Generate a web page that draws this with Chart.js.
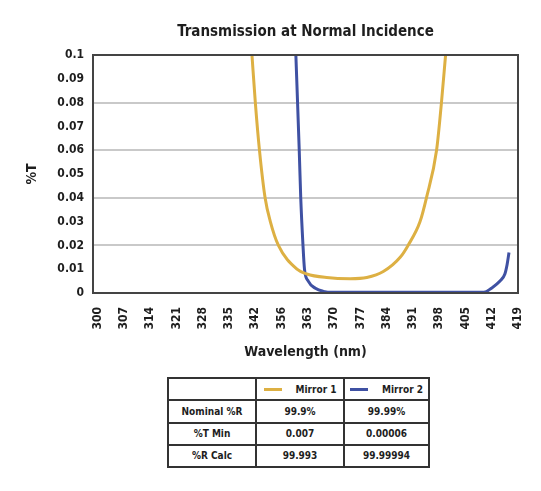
<!DOCTYPE html>
<html>
<head>
<meta charset="utf-8">
<script src="https://cdn.jsdelivr.net/npm/chart.js@4.4.1/dist/chart.umd.min.js"></script>
<style>
  body { margin: 0; background: #fff; }
  #wrap { position: relative; width: 541px; height: 491px; }
  #chart { position: absolute; left: 0; top: 0; }
  table.specs {
    position: absolute; left: 167px; top: 377px; width: 263px; height: 91px;
    border-collapse: collapse;
    font-family: 'DejaVu Sans Condensed', 'Liberation Sans', sans-serif;
    font-weight: bold; font-size: 10px; color: #1e1e1e;
  }
  table.specs td { border: 2px solid #333; text-align: center; padding: 0; }
  .key { display: inline-block; width: 18px; height: 3px; vertical-align: middle; margin-right: 14px; }
</style>
</head>
<body>
<div id="wrap">
  <canvas id="chart" width="541" height="370"></canvas>
  <table class="specs">
    <tr><td style="width:86px"></td><td style="width:86px"><span class="key" style="background:#DDB043"></span>Mirror 1</td><td><span class="key" style="background:#3F51A3"></span>Mirror 2</td></tr>
    <tr><td>Nominal %R</td><td>99.9%</td><td>99.99%</td></tr>
    <tr><td>%T Min</td><td>0.007</td><td>0.00006</td></tr>
    <tr><td>%R Calc</td><td>99.993</td><td>99.99994</td></tr>
  </table>
</div>
<script>
// tick labels as printed on the x axis (349 is not shown in the original)
const wavelengthTicks = [300, 307, 314, 321, 328, 335, 342, 356, 363, 370, 377, 384, 391, 398, 405, 412, 419];
const percentTicks = [0, 0.01, 0.02, 0.03, 0.04, 0.05, 0.06, 0.07, 0.08, 0.09, 0.1];

// Mirror 1 (wavelength nm, %T)
const mirror1Nm = [341.1, 342.0, 344.2, 347.2, 350.0, 354.3, 360.1, 362.7, 368.0, 374.3, 378.7, 383.1, 387.6, 389.7, 392.9, 394.6, 397.3, 398.6, 399.7];
const mirror1T  = [0.1, 0.08, 0.06, 0.04, 0.03, 0.02, 0.01, 0.008, 0.0065, 0.006, 0.0065, 0.009, 0.015, 0.02, 0.03, 0.04, 0.06, 0.08, 0.1];

// Mirror 2
const mirror2Nm = [359.8, 360.7, 361.1, 361.7, 362.1, 363.1, 365.0, 367.1, 369.8, 380, 390, 400, 409.9, 411.9, 414.2, 415.5, 416.1, 416.6];
const mirror2T  = [0.1, 0.06, 0.04, 0.02, 0.01, 0.005, 0.002, 0.0007, 0.0003, 0.0003, 0.0003, 0.0003, 0.0003, 0.002, 0.005, 0.008, 0.012, 0.017];

const FONT = "'DejaVu Sans Condensed', 'Liberation Sans', sans-serif";
const INK = '#1e1e1e';

// the axis spaces its printed labels evenly, so place wavelengths between them
function nmToPos(nm) {
  for (let i = 0; i < wavelengthTicks.length - 1; i++) {
    const a = wavelengthTicks[i], b = wavelengthTicks[i + 1];
    if (nm <= b || i === wavelengthTicks.length - 2) return i + (nm - a) / (b - a);
  }
}

const toPoints = (xs, ys) => xs.map((nm, i) => ({ x: nmToPos(nm), y: ys[i] }));

const plotBox = {
  id: 'plotBox',
  afterDatasetsDraw(chart) {
    const { ctx, chartArea: a } = chart;
    ctx.save();
    ctx.strokeStyle = '#444';
    ctx.lineWidth = 2;
    ctx.strokeRect(a.left, a.top, a.right - a.left, a.bottom - a.top);
    ctx.restore();
  }
};

new Chart(document.getElementById('chart'), {
  type: 'line',
  data: {
    datasets: [
      {
        label: 'Mirror 1',
        data: toPoints(mirror1Nm, mirror1T),
        borderColor: '#DDB043',
        borderWidth: 3,
        pointRadius: 0,
        cubicInterpolationMode: 'monotone'
      },
      {
        label: 'Mirror 2',
        data: toPoints(mirror2Nm, mirror2T),
        borderColor: '#3F51A3',
        borderWidth: 3,
        pointRadius: 0,
        cubicInterpolationMode: 'monotone'
      }
    ]
  },
  options: {
    responsive: false,
    animation: false,
    layout: { padding: { left: 0, right: 23, top: 0, bottom: 0 } },
    plugins: {
      legend: { display: false },
      tooltip: { enabled: false },
      title: {
        display: true,
        fullSize: false,
        text: 'Transmission at Normal Incidence',
        color: INK,
        font: { family: FONT, size: 15, weight: 'bold' },
        padding: { top: 23, bottom: 14 }
      }
    },
    scales: {
      x: {
        type: 'linear',
        min: -0.18,
        max: wavelengthTicks.length - 1,
        afterBuildTicks: s => { s.ticks = wavelengthTicks.map((_, i) => ({ value: i })); },
        afterFit: s => { s.height = 77; },
        grid: { display: false },
        border: { display: false },
        ticks: {
          autoSkip: false,
          minRotation: 90,
          maxRotation: 90,
          padding: 6,
          color: INK,
          font: { family: FONT, size: 12, weight: 'bold' },
          callback: v => wavelengthTicks[v]
        },
        title: {
          display: true,
          text: 'Wavelength (nm)',
          color: INK,
          font: { family: FONT, size: 14, weight: 'bold' },
          padding: { top: 0, bottom: 9 }
        }
      },
      y: {
        min: 0,
        max: 0.1,
        afterBuildTicks: s => { s.ticks = percentTicks.map(v => ({ value: v })); },
        afterFit: s => { s.width = 93; },
        border: { display: false },
        grid: {
          drawTicks: false,
          lineWidth: 2,
          color: c => (Math.round(c.tick.value * 100) % 2 === 0 ? '#c9c9c9' : 'rgba(0,0,0,0)')
        },
        ticks: {
          padding: 9,
          color: INK,
          font: { family: FONT, size: 12, weight: 'bold' },
          callback: v => String(Number(v.toFixed(2)))
        },
        title: {
          display: true,
          text: '%T',
          color: INK,
          font: { family: FONT, size: 14, weight: 'bold' },
          padding: { top: 24, bottom: 0 }
        }
      }
    }
  },
  plugins: [plotBox]
});
</script>
</body>
</html>
